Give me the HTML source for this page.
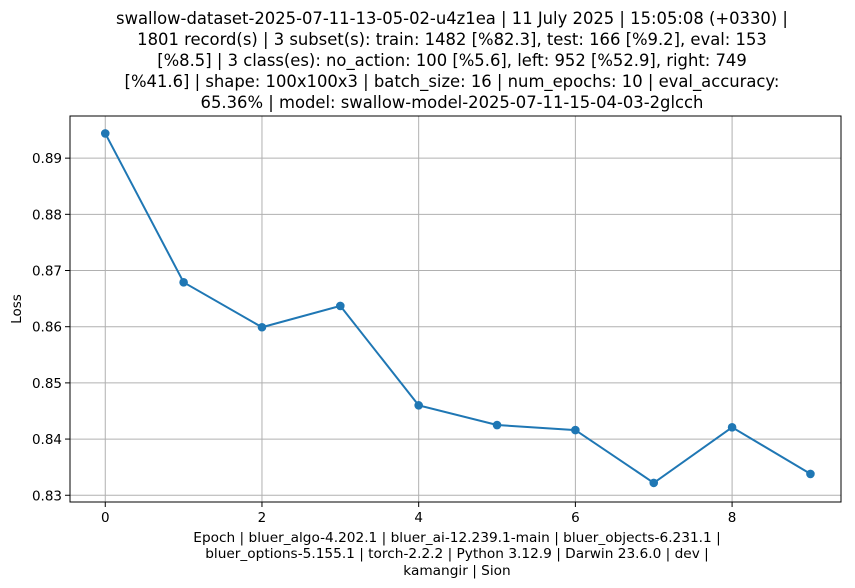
<!DOCTYPE html>
<html><head><meta charset="utf-8"><style>
body{margin:0;background:#fff;}
svg{display:block;font-family:"DejaVu Sans","Liberation Sans",sans-serif;}
</style></head><body>
<svg id="chart" width="855" height="588" viewBox="0 0 855 588" xmlns="http://www.w3.org/2000/svg">
<g font-size="16.4" text-anchor="middle" fill="#000">
<text x="452" y="24">swallow-dataset-2025-07-11-13-05-02-u4z1ea | 11 July 2025 | 15:05:08 (+0330) |</text>
<text x="452" y="45">1801 record(s) | 3 subset(s): train: 1482 [%82.3], test: 166 [%9.2], eval: 153</text>
<text x="452" y="66">[%8.5] | 3 class(es): no_action: 100 [%5.6], left: 952 [%52.9], right: 749</text>
<text x="452" y="87">[%41.6] | shape: 100x100x3 | batch_size: 16 | num_epochs: 10 | eval_accuracy:</text>
<text x="452" y="108">65.36% | model: swallow-model-2025-07-11-15-04-03-2glcch</text>
</g>
<g id="grid"></g>
<g id="ticks" font-size="13.5" fill="#000"></g>
<g id="series"></g>
<rect x="70" y="116" width="771" height="386" fill="none" stroke="#000" stroke-width="1"/>
<text x="0" y="0" transform="translate(21,309) rotate(-90)" text-anchor="middle" font-size="13.5">Loss</text>
<g font-size="13.7" text-anchor="middle">
<text x="457" y="542">Epoch | bluer_algo-4.202.1 | bluer_ai-12.239.1-main | bluer_objects-6.231.1 |</text>
<text x="457" y="558">bluer_options-5.155.1 | torch-2.2.2 | Python 3.12.9 | Darwin 23.6.0 | dev |</text>
<text x="457" y="575">kamangir | Sion</text>
</g>
</svg>
<script>
const epochs=[0,1,2,3,4,5,6,7,8,9];
const losses=[0.8944,0.8679,0.8599,0.8637,0.8460,0.8425,0.8416,0.8322,0.8421,0.8338];
const xTicks=[0,2,4,6,8];
const yTicks=[0.83,0.84,0.85,0.86,0.87,0.88,0.89];
const L=70,R=841,T=116,B=502;
const xMin=-0.45,xMax=9.39,yMin=0.8288,yMax=0.8975;
const sx=v=>L+(v-xMin)/(xMax-xMin)*(R-L);
const sy=v=>B-(v-yMin)/(yMax-yMin)*(B-T);
const NS="http://www.w3.org/2000/svg";
const grid=document.getElementById('grid'),ticks=document.getElementById('ticks'),series=document.getElementById('series');
function mk(t,a,p){const e=document.createElementNS(NS,t);for(const k in a)e.setAttribute(k,a[k]);p.appendChild(e);return e;}
xTicks.forEach(v=>{const x=sx(v);
 const g=mk('line',{x1:x,x2:x,y1:T,y2:B,stroke:'#b0b0b0','stroke-width':1},grid);
 
 
 const tk=mk('line',{x1:x,x2:x,y1:B,y2:B+5,stroke:'#000'},ticks);
 
 
 const t=mk('text',{x:x,y:B+20,'text-anchor':'middle'},ticks);t.textContent=v;
 
 
});
yTicks.forEach(v=>{const y=sy(v);
 const g=mk('line',{x1:L,x2:R,y1:y,y2:y,stroke:'#b0b0b0','stroke-width':1},grid);
 
 
 const tk=mk('line',{x1:L-5,x2:L,y1:y,y2:y,stroke:'#000'},ticks);
 
 
 const t=mk('text',{x:L-8,y:y+5,'text-anchor':'end'},ticks);t.textContent=v.toFixed(2);
 
 
});
const pts=epochs.map((e,i)=>sx(e)+','+sy(losses[i])).join(' ');
const pl=mk('polyline',{points:pts,fill:'none',stroke:'#1f77b4','stroke-width':2},series);


epochs.forEach((e,i)=>{const c=mk('circle',{cx:sx(e),cy:sy(losses[i]),r:4.3,fill:'#1f77b4'},series);
 
 
});
</script>
</body></html>
